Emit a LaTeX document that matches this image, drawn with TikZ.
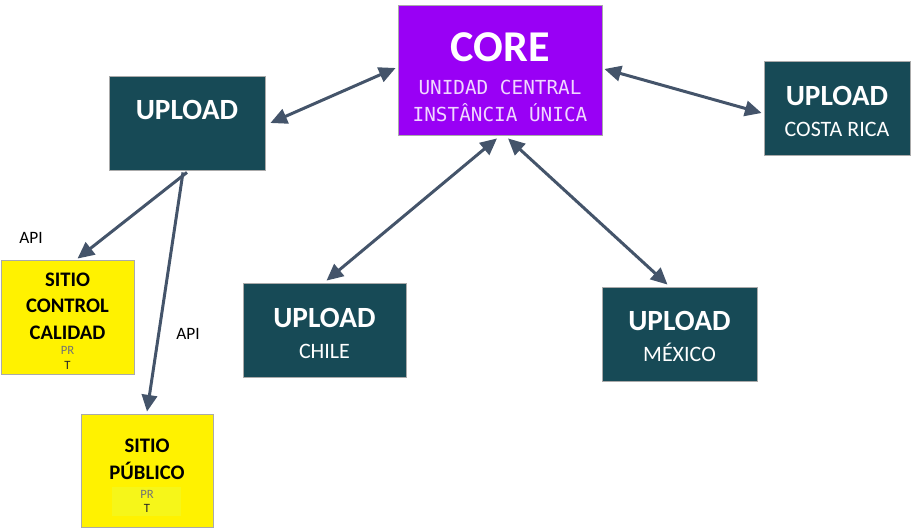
\documentclass[tikz,border=0pt]{standalone}
\usepackage{fontspec}
\setmainfont{Carlito}
\newfontfamily\monofam{DejaVu Sans Mono}
\usetikzlibrary{arrows.meta}
\definecolor{corepurple}{RGB}{153,0,245}
\definecolor{tealbox}{RGB}{23,74,86}
\definecolor{arrowcol}{RGB}{68,84,106}
\definecolor{subtxt}{RGB}{240,215,255}
\definecolor{boxedge}{RGB}{170,170,170}
\definecolor{paleyel}{RGB}{246,246,25}
\begin{document}
\begin{tikzpicture}[x=0.75pt,y=-0.75pt,
  box/.style={draw=boxedge,line width=0.6pt,minimum width=#1,inner sep=0pt},
  tealnode/.style={fill=tealbox,minimum height=70.5pt},
  yelnode/.style={fill=yellow},
  title/.style={anchor=base,text=white,font=\bfseries\fontsize{22}{24}\selectfont},
  sub/.style={anchor=base,text=white,font=\fontsize{16.5}{18}\selectfont},
  sitio/.style={anchor=base,text=black,font=\bfseries\fontsize{15.5}{17}\selectfont},
  small/.style={anchor=base,font=\fontsize{9.5}{10}\selectfont},
  api/.style={anchor=base,text=black,font=\fontsize{13}{15}\selectfont},
  conn/.style={draw=arrowcol,line width=2.25pt}
]
\useasboundingbox (0,0) rectangle (915,530);

% boxes
\node[box=153pt,fill=corepurple,minimum height=97.5pt] (core) at (500,70) {};
\node[box=117pt,tealnode] (up) at (187,123) {};
\node[box=109.5pt,tealnode] (cr) at (837,108) {};
\node[box=122.25pt,tealnode] (chile) at (324.5,330) {};
\node[box=116.25pt,tealnode] (mex) at (679.5,334) {};
\node[box=99.75pt,yelnode,minimum height=85.5pt] (scc) at (67.5,317) {};
\node[box=99pt,yelnode,minimum height=84.75pt] (sp) at (147,470.5) {};
\node[fill=paleyel,minimum width=51.75pt,minimum height=21.75pt,inner sep=0pt] (spband) at (146.5,501.5) {};

% texts
\node[anchor=base,text=white,font=\bfseries\fontsize{33}{36}\selectfont] (coret) at (500,62) {CORE};
\node[anchor=base,text=subtxt,font=\monofam\fontsize{14.5}{16}\selectfont] (cores1) at (500,95) {UNIDAD CENTRAL};
\node[anchor=base,text=subtxt,font=\monofam\fontsize{14.5}{16}\selectfont] (cores2) at (500,122) {INSTÂNCIA ÚNICA};

\node[title] (upt) at (187,119.5) {UPLOAD};
\node[title] (crt) at (837,105.5) {UPLOAD};
\node[sub] (crs) at (837,137) {COSTA RICA};
\node[title] (chilet) at (324.5,327.5) {UPLOAD};
\node[sub] (chiles) at (324.5,359) {CHILE};
\node[title] (mext) at (679.5,330.5) {UPLOAD};
\node[sub] (mexs) at (679.5,362) {MÉXICO};

\node[sitio] (scc1) at (67.5,287) {SITIO};
\node[sitio] (scc2) at (67.5,313) {CONTROL};
\node[sitio] (scc3) at (67.5,340) {CALIDAD};
\node[small,text=black!55] (scc4) at (67.5,354.5) {PR};
\node[small,text=black!85] (scc5) at (67.5,370) {T};

\node[sitio] (sp1) at (147,453) {SITIO};
\node[sitio] (sp2) at (147,480) {PÚBLICO};
\node[small,text=black!55] (sp3) at (147,498.5) {PR};
\node[small,text=black!85] (sp4) at (147,513) {T};

\node[api] (api1) at (31,243.5) {API};
\node[api] (api2) at (188,339.5) {API};

% connectors
\draw[conn,{Triangle[length=12.5pt,width=11.5pt]}-{Triangle[length=12.5pt,width=11.5pt]}]
  ([xshift=3.75pt]up.east) -- ([yshift=1.5pt,xshift=-1.5pt]core.west);
\draw[conn,{Triangle[length=12.5pt,width=11.5pt]}-{Triangle[length=12.5pt,width=11.5pt]}]
  ([xshift=1.5pt,yshift=0.75pt]core.east) -- ([xshift=-1.5pt,yshift=-3.75pt]cr.west);
\draw[conn,{Triangle[length=12.5pt,width=11.5pt]}-{Triangle[length=12.5pt,width=11.5pt]}]
  ([xshift=-2.25pt,yshift=-2.25pt]core.south) -- ([xshift=1.5pt,yshift=1.5pt]chile.north);
\draw[conn,{Triangle[length=12.5pt,width=11.5pt]}-{Triangle[length=12.5pt,width=11.5pt]}]
  ([xshift=6pt,yshift=-2.25pt]core.south) -- ([xshift=-9pt,yshift=1.5pt]mex.north);
\draw[conn,-{Triangle[length=12.5pt,width=11.5pt]}]
  ([yshift=-1.5pt]up.south) -- ([xshift=7.5pt,yshift=0.75pt]scc.north);
\draw[conn,-{Triangle[length=12.5pt,width=11.5pt]}]
  ([xshift=-3pt,yshift=-1.5pt]up.south) -- ([yshift=1.5pt]sp.north);
\end{tikzpicture}
\end{document}
